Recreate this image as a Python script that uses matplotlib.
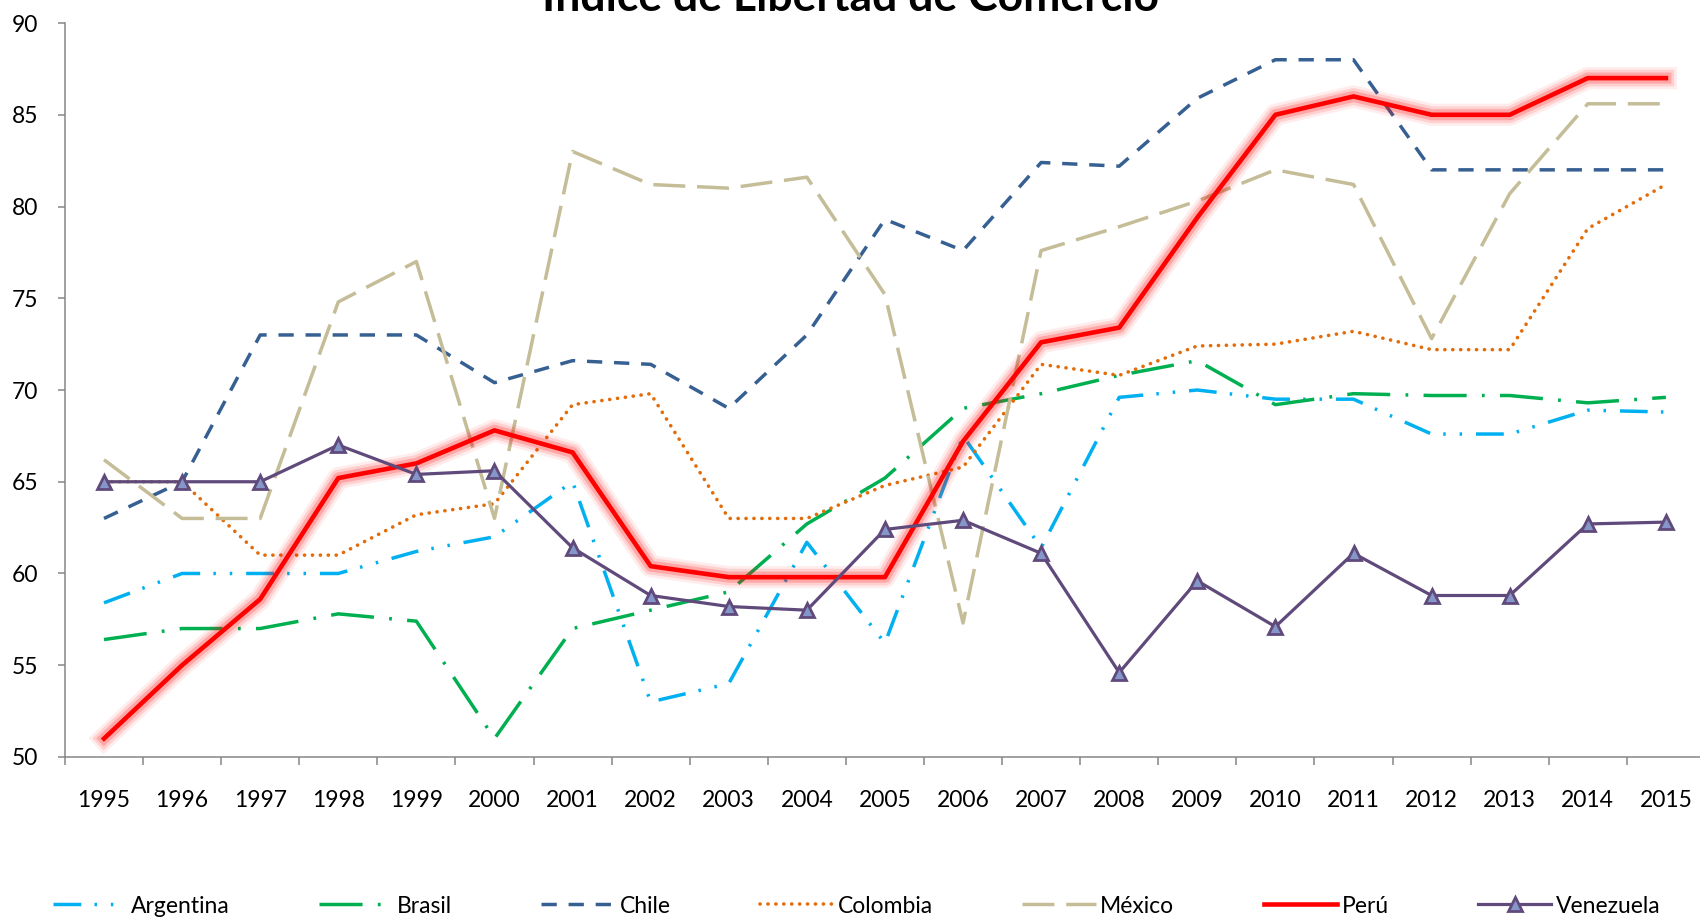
import matplotlib
matplotlib.use("Agg")
import matplotlib.pyplot as plt
import matplotlib.patheffects as pe

plt.rcParams['font.family'] = ['Lato', 'DejaVu Sans']
plt.rcParams['lines.scale_dashes'] = False

years = [str(y) for y in range(1995, 2016)]

argentina = [58.4, 60, 60, 60, 61.2, 62, 65, 53, 54, 61.7, 56.2,
             67.5, 61.4, 69.6, 70, 69.5, 69.5, 67.6, 67.6, 68.9, 68.8]
brasil = [56.4, 57, 57, 57.8, 57.4, 51, 57, 58, 59, 62.7, 65.2,
          69, 69.8, 70.8, 71.6, 69.2, 69.8, 69.7, 69.7, 69.3, 69.6]
chile = [63, 65, 73, 73, 73, 70.4, 71.6, 71.4, 69, 73, 79.3,
         77.6, 82.4, 82.2, 85.9, 88, 88, 82, 82, 82, 82]
colombia = [65, 65, 61, 61, 63.2, 63.8, 69.2, 69.8, 63, 63, 64.8,
            65.8, 71.4, 70.8, 72.4, 72.5, 73.2, 72.2, 72.2, 78.8, 81.2]
mexico = [66.2, 63, 63, 74.8, 77, 63, 83, 81.2, 81, 81.6, 75.2,
          57.3, 77.6, 78.9, 80.3, 82, 81.2, 72.8, 80.7, 85.6, 85.6]
peru = [51, 55, 58.6, 65.2, 66, 67.8, 66.6, 60.4, 59.8, 59.8, 59.8,
        67.2, 72.6, 73.4, 79.4, 85, 86, 85, 85, 87, 87]
venezuela = [65, 65, 65, 67, 65.4, 65.6, 61.4, 58.8, 58.2, 58, 62.4,
             62.9, 61.1, 54.6, 59.6, 57.1, 61.1, 58.8, 58.8, 62.7, 62.8]

x = range(len(years))

fig = plt.figure(figsize=(17, 9.22), dpi=100)
ax = fig.add_axes([0.0382, 0.179, 0.9647, 0.796])

ax.plot(x, argentina, color='#00B0F0', lw=2.5, dashes=(20, 9.5, 1.8, 10, 1.8, 10), label='Argentina')
ax.plot(x, brasil, color='#00B050', lw=2.5, dashes=(31, 11, 2, 11), label='Brasil')
ax.plot(x, chile, color='#376092', lw=2.5, dashes=(11, 8.5), label='Chile')
ax.plot(x, colombia, color='#E36C09', lw=2.6, dashes=(0.1, 5.6), dash_capstyle='round', label='Colombia')
ax.plot(x, mexico, color='#C4BD97', lw=2.5, dashes=(23, 8.5), label='México')
# glow around Peru
ax.plot(x, peru, color='#FF0000', lw=3.3, solid_joinstyle='round', label='Perú',
        path_effects=[pe.Stroke(linewidth=16, foreground='#FF0000', alpha=0.07),
                      pe.Stroke(linewidth=12, foreground='#FF0000', alpha=0.12),
                      pe.Stroke(linewidth=8, foreground='#FF0000', alpha=0.2),
                      pe.Normal()])
ax.plot(x, venezuela, color='#604A7B', lw=2.3, marker='^', markersize=10,
        markerfacecolor='#8497C8', markeredgecolor='#604A7B', markeredgewidth=2,
        label='Venezuela')

ax.set_xlim(-0.5, len(years) - 0.5)
ax.set_ylim(50, 90)
ax.set_yticks(range(50, 91, 5))

ax.set_xticks([i - 0.5 for i in range(len(years) + 1)])
ax.set_xticklabels([])
ax.set_xticks(list(x), minor=True)
ax.set_xticklabels(years, minor=True)
ax.tick_params(axis='x', which='major', direction='out', length=6, width=1.1, color='#868686')
ax.tick_params(axis='x', which='minor', length=0, pad=24, labelsize=16.5)
ax.tick_params(axis='y', direction='out', length=5, width=1.1, color='#868686', pad=14, labelsize=16.5)

for s in ['top', 'right']:
    ax.spines[s].set_visible(False)
for s in ['left', 'bottom']:
    ax.spines[s].set_color('#868686')
    ax.spines[s].set_linewidth(1.1)

fig.text(0.5, 1 - 11 / 922, 'Índice de Libertad de Comercio', ha='center', va='baseline',
         fontsize=32, fontweight='bold')

leg = fig.legend(loc='center', bbox_to_anchor=(0.504, 1 - 906 / 922), ncol=7, frameon=False,
                 handlelength=3.2, handletextpad=0.2, columnspacing=3.9, fontsize=16.5)
for h in leg.legend_handles:
    h.set_path_effects([])

fig.savefig('out.png', dpi=100)
